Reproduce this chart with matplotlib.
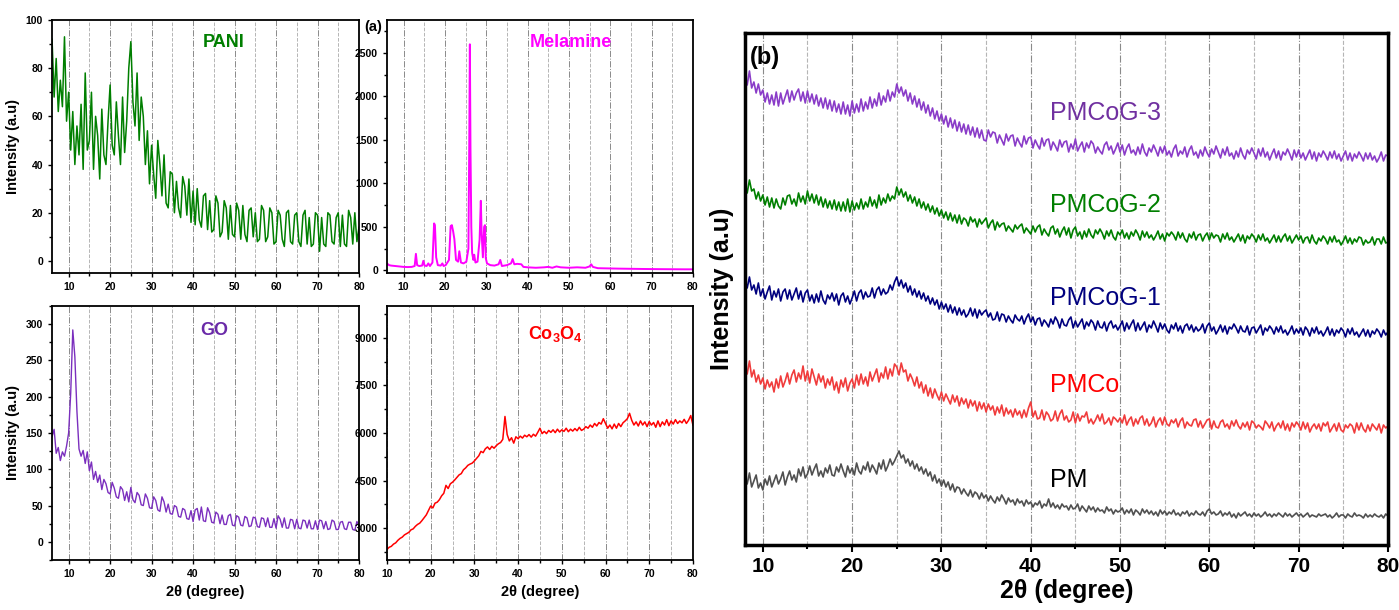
import numpy as np
import matplotlib.pyplot as plt
from matplotlib.ticker import MultipleLocator

plt.rcParams['font.family'] = ['Liberation Sans', 'DejaVu Sans']
plt.rcParams['mathtext.fontset'] = 'custom'
plt.rcParams['mathtext.bf'] = 'Liberation Sans:bold'
plt.rcParams['mathtext.rm'] = 'Liberation Sans'

# ---- (a) single-component patterns, 0.5 deg steps ----
pani = [92, 68, 84, 62, 75, 64, 93, 58, 70, 46, 62, 40, 56, 44, 65, 38, 78, 46, 50, 70,
        38, 60, 52, 34, 63, 44, 40, 58, 73, 48, 44, 66, 52, 40, 68, 45, 58, 80, 91, 66,
        56, 78, 50, 68, 60, 40, 54, 32, 48, 36, 26, 50, 40, 27, 44, 24, 22, 37, 36, 20,
        33, 22, 18, 35, 31, 19, 34, 16, 29, 15, 30, 17, 14, 27, 28, 13, 25, 12, 13, 27,
        24, 10, 12, 25, 22, 9, 23, 11, 10, 24, 21, 9, 23, 11, 8, 21, 22, 10, 20, 8,
        9, 23, 21, 8, 10, 22, 20, 7, 8, 21, 19, 9, 6, 20, 21, 8, 7, 19, 20, 8,
        6, 19, 21, 7, 18, 6, 7, 20, 19, 4, 18, 7, 6, 20, 19, 8, 7, 18, 20, 6,
        19, 7, 6, 21, 18, 7, 20, 8, 14]

mel_x = [6, 6.5, 7, 8, 9, 10, 11, 12, 12.7, 13, 13.3, 13.8, 14.5, 14.8, 15.1, 15.6, 16, 16.4,
         17, 17.4, 17.6, 17.9, 18.3, 19, 19.4, 19.7, 20.2, 21, 21.4, 21.7, 22.0, 22.3, 22.7,
         23.2, 23.5, 23.9, 24.5, 25.2, 25.7, 25.9, 26.05, 26.2, 26.4, 26.6, 26.9, 27.1, 27.4,
         27.9, 28.4, 28.7, 28.9, 29.2, 29.5, 29.7, 29.9, 30.2, 31, 32, 33, 33.4, 33.8, 35, 36,
         36.4, 36.8, 37.5, 38.5, 39, 40, 42, 44, 45, 46, 47, 48, 50, 52, 54, 55, 55.4, 55.8,
         57, 60, 62, 65, 68, 70, 72, 75, 78, 80]
mel_y = [80, 60, 55, 50, 45, 40, 38, 40, 50, 190, 60, 50, 55, 110, 55, 50, 80, 50,
         90, 540, 520, 150, 60, 55, 80, 50, 60, 120, 510, 520, 450, 360, 120,
         100, 220, 90, 80, 100, 250, 1450, 2600, 1400, 500, 200, 120, 180, 90,
         100, 350, 800, 420, 150, 500, 520, 140, 80, 60, 55, 70, 120, 50, 60, 80,
         130, 70, 75, 70, 40, 35, 30, 35, 40, 30, 45, 35, 30, 35, 30, 45, 70, 40,
         25, 22, 20, 18, 16, 15, 14, 13, 12, 12]

go = [145, 155, 122, 130, 112, 124, 118, 132, 150, 205, 292, 255, 180, 128, 118, 126, 108, 124, 98, 110,
      86, 97, 82, 92, 72, 86, 80, 68, 66, 82, 74, 62, 60, 76, 72, 57, 69, 55, 75, 58,
      54, 68, 64, 51, 50, 66, 60, 47, 46, 62, 57, 44, 42, 62, 55, 41, 52, 39, 38, 50,
      48, 35, 34, 46, 44, 32, 31, 43, 28, 44, 46, 30, 48, 29, 28, 47, 40, 27, 26, 41,
      38, 25, 37, 24, 24, 36, 38, 23, 22, 36, 34, 23, 22, 35, 33, 21, 22, 34, 33, 21,
      20, 33, 32, 21, 33, 20, 20, 32, 19, 36, 31, 20, 33, 19, 19, 31, 30, 18, 31, 19,
      18, 30, 29, 19, 30, 18, 18, 29, 17, 30, 29, 18, 28, 17, 18, 30, 28, 17, 17, 27,
      28, 18, 17, 27, 27, 17, 16, 28, 22]

co3o4 = [2330, 2400, 2430, 2500, 2540, 2620, 2680, 2720, 2790, 2830, 2870, 2950, 2980, 3060, 3120,
         3160, 3240, 3330, 3420, 3560, 3700, 3640, 3790, 3820, 3900, 4020, 4100, 4350, 4250, 4400,
         4450, 4520, 4600, 4680, 4720, 4840, 4900, 4980, 5020, 5050, 5120, 5200, 5280, 5420, 5380,
         5500, 5560, 5480, 5580, 5520, 5600, 5660, 5700, 5800, 6520, 5950, 5750, 5850, 5680, 5880,
         5820, 5900, 5840, 5930, 5880, 5950, 5870, 5960, 5900, 6020, 6150, 5980, 6050, 5980, 6080,
         6020, 6100, 6010, 6120, 6030, 6100, 6050, 6150, 6040, 6120, 6060, 6140, 6070, 6180, 6080,
         6120, 6200, 6150, 6250, 6180, 6300, 6220, 6330, 6280, 6450, 6300, 6150, 6250, 6130, 6280,
         6150, 6300, 6200, 6320, 6380, 6450, 6620, 6400, 6250, 6350, 6220, 6380, 6250, 6350, 6200,
         6360, 6250, 6330, 6180, 6380, 6200, 6350, 6250, 6420, 6230, 6380, 6280, 6420, 6300, 6380,
         6320, 6430, 6300, 6400, 6550, 6250]

# ---- (b) composites, offset stack, 8-80 deg in 0.25 deg steps ----
pm = [68, 61, 72, 58, 64, 70, 57, 62, 55, 66, 60, 69, 58, 64, 70, 61,
      66, 73, 60, 68, 74, 65, 70, 63, 76, 69, 78, 67, 71, 79, 70, 76,
      81, 69, 74, 68, 77, 72, 80, 70, 69, 78, 73, 81, 74, 68, 79, 72,
      77, 70, 82, 74, 71, 79, 75, 83, 73, 80, 76, 71, 82, 76, 85, 74,
      79, 86, 80, 84, 89, 94, 87, 90, 82, 86, 79, 84, 76, 81, 74, 78,
      71, 76, 69, 73, 64, 70, 62, 66, 59, 65, 58, 63, 55, 61, 53, 58,
      57, 51, 56, 52, 49, 55, 48, 53, 51, 46, 52, 47, 50, 44, 49, 45,
      42, 48, 44, 50, 46, 41, 47, 43, 45, 40, 46, 42, 44, 39, 45, 41,
      43, 38, 42, 40, 44, 37, 41, 39, 46, 38, 42, 37, 40, 36, 41, 38,
      39, 35, 40, 36, 37, 41, 34, 39, 36, 33, 39, 35, 38, 33, 37, 34,
      35, 32, 38, 34, 36, 31, 35, 33, 34, 37, 31, 35, 32, 36, 30, 35,
      33, 30, 36, 32, 35, 31, 34, 30, 33, 29, 35, 31, 34, 30, 33, 31,
      35, 30, 32, 29, 33, 31, 34, 29, 32, 30, 34, 31, 30, 33, 29, 34,
      36, 31, 33, 30, 31, 34, 29, 32, 30, 33, 28, 31, 27, 32, 29, 31,
      33, 29, 31, 28, 32, 29, 31, 28, 30, 33, 29, 31, 28, 31, 29, 32,
      30, 28, 32, 29, 31, 28, 30, 32, 29, 31, 28, 30, 32, 28, 30, 29,
      28, 31, 29, 30, 31, 28, 30, 27, 29, 32, 28, 30, 30, 27, 31, 29,
      28, 32, 29, 30, 29, 27, 31, 28, 30, 28, 31, 29, 28, 30, 27, 31,
      29]

pmco = [180, 171, 184, 168, 175, 163, 170, 161, 167, 156, 165, 158, 163, 153, 166, 157,
        169, 158, 164, 172, 161, 170, 175, 163, 172, 166, 179, 164, 174, 162, 176, 168,
        160, 171, 163, 169, 157, 166, 160, 168, 155, 163, 152, 165, 158, 167, 154, 162,
        166, 157, 170, 160, 171, 161, 168, 159, 173, 164, 170, 176, 163, 172, 167, 178,
        166, 176, 169, 181, 178, 170, 182, 173, 175, 164, 171, 166, 159, 168, 157, 163,
        152, 160, 149, 157, 147, 156, 150, 145, 153, 144, 151, 146, 141, 150, 143, 149,
        139, 147, 141, 146, 137, 145, 139, 144, 134, 143, 136, 142, 133, 141, 135, 139,
        130, 138, 132, 140, 129, 137, 131, 135, 128, 136, 130, 134, 127, 135, 128, 137,
        143, 128, 134, 126, 127, 135, 125, 133, 130, 124, 126, 134, 124, 131, 135, 125,
        129, 123, 125, 133, 122, 131, 124, 129, 128, 133, 122, 126, 121, 125, 130, 124,
        131, 121, 123, 127, 120, 128, 126, 123, 127, 122, 130, 120, 125, 128, 119, 126,
        121, 127, 129, 120, 126, 119, 122, 128, 118, 124, 127, 120, 128, 121, 119, 125,
        122, 126, 118, 124, 127, 117, 123, 120, 119, 125, 126, 118, 124, 117, 121, 125,
        126, 116, 124, 118, 117, 123, 125, 118, 121, 116, 124, 119, 125, 119, 116, 122,
        118, 123, 115, 124, 122, 117, 120, 118, 115, 124, 121, 117, 123, 114, 119, 122,
        117, 124, 115, 121, 114, 122, 118, 123, 120, 115, 123, 116, 122, 113, 118, 121,
        116, 121, 114, 122, 119, 123, 113, 117, 121, 114, 122, 115, 113, 120, 117, 121,
        119, 112, 122, 115, 122, 116, 113, 120, 114, 121, 118, 115, 121, 112, 120, 117,
        119]

pmcog1 = [266, 257, 268, 255, 260, 251, 262, 249, 256, 246, 253, 259, 245, 254, 248, 256,
          244, 253, 256, 246, 255, 245, 251, 257, 246, 254, 243, 252, 255, 244, 250, 242,
          251, 243, 254, 245, 241, 250, 246, 252, 244, 251, 240, 249, 252, 243, 249, 241,
          247, 254, 244, 252, 255, 246, 253, 248, 249, 257, 247, 255, 258, 250, 256, 251,
          253, 260, 255, 263, 268, 259, 265, 257, 262, 253, 259, 250, 256, 248, 254, 246,
          252, 244, 249, 241, 247, 240, 245, 236, 243, 236, 241, 233, 240, 232, 238, 230,
          237, 230, 235, 228, 231, 237, 229, 236, 227, 235, 230, 233, 235, 228, 232, 225,
          226, 233, 224, 231, 230, 223, 229, 225, 222, 230, 226, 224, 229, 221, 227, 231,
          223, 228, 220, 226, 227, 219, 225, 222, 218, 226, 221, 228, 224, 217, 226, 220,
          219, 225, 228, 217, 224, 218, 222, 226, 216, 223, 219, 225, 222, 215, 224, 218,
          217, 223, 214, 221, 224, 217, 220, 215, 219, 224, 214, 222, 216, 221, 225, 214,
          222, 215, 219, 223, 213, 220, 217, 224, 219, 213, 222, 216, 221, 215, 212, 220,
          216, 222, 214, 219, 212, 219, 221, 215, 220, 213, 218, 214, 216, 221, 212, 219,
          222, 214, 218, 211, 215, 220, 213, 219, 211, 218, 216, 221, 217, 212, 219, 214,
          213, 219, 210, 217, 218, 212, 216, 220, 210, 217, 214, 219, 216, 211, 218, 213,
          219, 212, 215, 210, 214, 219, 211, 216, 212, 217, 210, 218, 215, 209, 217, 212,
          218, 211, 214, 209, 213, 218, 210, 216, 209, 215, 212, 217, 214, 208, 216, 211,
          217, 210, 213, 208, 212, 216, 209, 215, 208, 214, 211, 216, 213, 208, 215, 210,
          213]

pmcog2 = [362, 352, 365, 354, 356, 346, 353, 344, 350, 340, 348, 338, 347, 337, 346, 339,
          336, 347, 340, 349, 350, 341, 346, 339, 352, 343, 349, 341, 354, 344, 351, 342,
          350, 340, 348, 338, 346, 337, 344, 336, 345, 335, 343, 334, 343, 334, 346, 333,
          344, 335, 342, 336, 346, 336, 343, 338, 348, 339, 345, 337, 350, 340, 347, 342,
          351, 344, 349, 346, 358, 350, 356, 348, 353, 344, 350, 342, 348, 339, 346, 337,
          343, 335, 341, 333, 339, 331, 337, 329, 335, 327, 333, 325, 332, 324, 330, 322,
          330, 321, 327, 325, 319, 328, 323, 326, 318, 326, 321, 324, 327, 317, 322, 325,
          315, 323, 318, 321, 322, 314, 319, 316, 313, 320, 316, 319, 321, 312, 317, 314,
          311, 319, 313, 318, 320, 310, 316, 312, 309, 317, 319, 311, 316, 308, 314, 318,
          310, 317, 307, 315, 318, 309, 313, 306, 314, 308, 316, 310, 307, 315, 311, 316,
          312, 306, 314, 309, 315, 308, 305, 313, 310, 315, 307, 312, 306, 313, 309, 315,
          311, 305, 314, 308, 313, 307, 310, 305, 309, 314, 306, 311, 304, 312, 309, 313,
          310, 305, 313, 307, 312, 306, 303, 311, 307, 313, 305, 310, 311, 304, 309, 312,
          305, 312, 307, 310, 309, 303, 311, 306, 312, 305, 308, 303, 307, 311, 304, 310,
          302, 309, 306, 311, 308, 303, 310, 305, 311, 304, 307, 302, 306, 310, 303, 309,
          303, 308, 311, 304, 309, 302, 306, 310, 305, 309, 302, 307, 308, 302, 310, 304,
          301, 307, 304, 309, 306, 301, 308, 303, 309, 303, 305, 300, 304, 309, 302, 307,
          301, 306, 303, 308, 307, 300, 305, 302, 303, 308, 300, 306, 306, 301, 308, 302,
          303]

pmcog3 = [470, 460, 474, 457, 463, 452, 461, 450, 455, 443, 452, 441, 450, 440, 453, 439,
          452, 441, 448, 455, 443, 454, 445, 452, 456, 444, 453, 442, 454, 443, 451, 441,
          450, 439, 447, 437, 447, 436, 445, 434, 444, 433, 441, 431, 443, 431, 440, 429,
          444, 432, 441, 433, 446, 434, 443, 436, 448, 437, 446, 439, 452, 440, 449, 443,
          455, 444, 453, 448, 461, 452, 458, 449, 455, 444, 452, 441, 449, 438, 446, 435,
          443, 432, 440, 429, 437, 426, 434, 424, 431, 421, 429, 418, 427, 417, 425, 414,
          423, 413, 421, 411, 420, 410, 418, 408, 417, 407, 415, 405, 404, 415, 408, 413,
          412, 402, 410, 405, 400, 411, 404, 409, 410, 399, 407, 402, 398, 409, 401, 407,
          408, 397, 405, 400, 396, 407, 399, 405, 406, 395, 403, 399, 394, 405, 398, 403,
          404, 393, 401, 396, 406, 394, 399, 403, 393, 402, 397, 404, 401, 392, 398, 394,
          391, 400, 403, 395, 399, 391, 396, 402, 393, 400, 390, 397, 401, 392, 395, 390,
          398, 391, 401, 393, 389, 397, 393, 400, 395, 389, 398, 392, 399, 390, 394, 388,
          396, 400, 389, 394, 391, 398, 388, 395, 399, 390, 393, 387, 395, 389, 398, 392,
          388, 396, 391, 399, 393, 387, 396, 390, 398, 389, 392, 386, 394, 388, 397, 390,
          386, 395, 391, 397, 392, 386, 396, 389, 397, 388, 393, 385, 391, 396, 387, 394,
          385, 393, 390, 396, 391, 385, 395, 388, 395, 387, 392, 385, 390, 395, 386, 393,
          384, 392, 388, 394, 390, 385, 393, 387, 394, 386, 391, 384, 389, 394, 385, 392,
          384, 391, 387, 393, 389, 384, 392, 386, 392, 385, 389, 383, 387, 393, 384, 390,
          389]

b_names = ['PM', 'PMCo', 'PMCoG-1', 'PMCoG-2', 'PMCoG-3']
b_series = [pm, pmco, pmcog1, pmcog2, pmcog3]
b_colors = ['#505050', '#f03c3c', '#00007f', '#007f00', '#8a3cc8']
b_text_colors = ['#000000', '#ff0000', '#00007f', '#007f00', '#7030a0']
b_label_y = [65, 160, 247, 340, 432]

fig = plt.figure(figsize=(13.99, 6.10), dpi=100)


def style_small(ax, x0, ymaj, ymin_step, ylim):
    ax.set_xlim(x0, 80)
    ax.set_ylim(*ylim)
    ax.xaxis.set_major_locator(MultipleLocator(10))
    ax.xaxis.set_minor_locator(MultipleLocator(5))
    ax.yaxis.set_major_locator(MultipleLocator(ymaj))
    ax.yaxis.set_minor_locator(MultipleLocator(ymin_step))
    ax.grid(True, axis='x', which='major', ls='-.', color='#8a8a8a', lw=0.7)
    ax.grid(True, axis='x', which='minor', ls='--', color='#b5b5b5', lw=0.7)
    ax.set_axisbelow(True)
    ax.tick_params(which='both', direction='out', labelsize=7.5, width=1)
    ax.tick_params(which='major', length=3)
    ax.tick_params(which='minor', length=2)
    for lab in ax.get_xticklabels() + ax.get_yticklabels():
        lab.set_fontweight('bold')
    for sp in ax.spines.values():
        sp.set_linewidth(1.3)


# ---- PANI ----
ax1 = fig.add_axes([0.0372, 0.5525, 0.2194, 0.4148])
ax1.plot(np.linspace(6, 80, len(pani)), pani, color='#007f00', lw=1.1)
style_small(ax1, 6, 20, 10, (-5, 100))
ax1.set_ylabel('Intensity (a.u)', fontsize=10.5, fontweight='bold')
ax1.text(0.56, 0.91, 'PANI', transform=ax1.transAxes, color='#007f00',
         fontsize=13, fontweight='bold', ha='center', va='center')

# ---- Melamine ----
ax2 = fig.add_axes([0.2766, 0.5525, 0.2187, 0.4148])
ax2.plot(mel_x, mel_y, color='#ff00ff', lw=1.4)
style_small(ax2, 6, 500, 250, (-30, 2880))
ax2.text(0.60, 0.91, 'Melamine', transform=ax2.transAxes, color='#ff00ff',
         fontsize=13, fontweight='bold', ha='center', va='center')
fig.text(373 / 1399, 1 - 27 / 610, '(a)', fontsize=10.5, fontweight='bold',
         ha='center', va='center')

# ---- GO ----
ax3 = fig.add_axes([0.0372, 0.0820, 0.2194, 0.4164])
ax3.plot(np.linspace(6, 80, len(go)), go, color='#7b2fbe', lw=1.0)
style_small(ax3, 6, 50, 25, (-25, 325))
ax3.set_ylabel('Intensity (a.u)', fontsize=10.5, fontweight='bold')
ax3.set_xlabel('2θ (degree)', fontsize=10.5, fontweight='bold')
ax3.text(0.53, 0.905, 'GO', transform=ax3.transAxes, color='#6a2aa8',
         fontsize=13, fontweight='bold', ha='center', va='center')

# ---- Co3O4 ----
ax4 = fig.add_axes([0.2766, 0.0820, 0.2187, 0.4164])
ax4.plot(np.linspace(10, 80, len(co3o4)), co3o4, color='#ff0000', lw=1.1)
style_small(ax4, 10, 1500, 750, (2000, 10000))
ax4.set_xlabel('2θ (degree)', fontsize=10.5, fontweight='bold')
ax4.text(0.55, 0.89, r'$\mathbf{Co_3O_4}$', transform=ax4.transAxes, color='#ff0000',
         fontsize=13, ha='center', va='center')

# ---- (b) stacked composites ----
axb = fig.add_axes([0.5325, 0.1066, 0.4596, 0.8393])
for name, ys, col, tcol, ly in zip(b_names, b_series, b_colors, b_text_colors, b_label_y):
    axb.plot(np.linspace(8, 80, len(ys)), ys, color=col, lw=1.2)
    axb.text(42.2, ly, name, color=tcol, fontsize=18, ha='left', va='center')
axb.set_xlim(8, 80)
axb.set_ylim(0, 512)
axb.set_yticks([])
axb.xaxis.set_major_locator(MultipleLocator(10))
axb.xaxis.set_minor_locator(MultipleLocator(5))
axb.grid(True, axis='x', which='major', ls='-.', color='#8a8a8a', lw=0.8)
axb.grid(True, axis='x', which='minor', ls='--', color='#b5b5b5', lw=0.8)
axb.set_axisbelow(True)
axb.tick_params(which='both', direction='out', labelsize=15, width=1.5)
axb.tick_params(which='major', length=5)
axb.tick_params(which='minor', length=3)
for lab in axb.get_xticklabels():
    lab.set_fontweight('bold')
for sp in axb.spines.values():
    sp.set_linewidth(2.5)
axb.set_xlabel('2θ (degree)', fontsize=18, fontweight='bold', labelpad=2)
axb.set_ylabel('Intensity (a.u)', fontsize=18, fontweight='bold', labelpad=8)
axb.text(0.008, 0.975, '(b)', transform=axb.transAxes, fontsize=17,
         fontweight='bold', ha='left', va='top')

fig.savefig('out.png', dpi=100)
